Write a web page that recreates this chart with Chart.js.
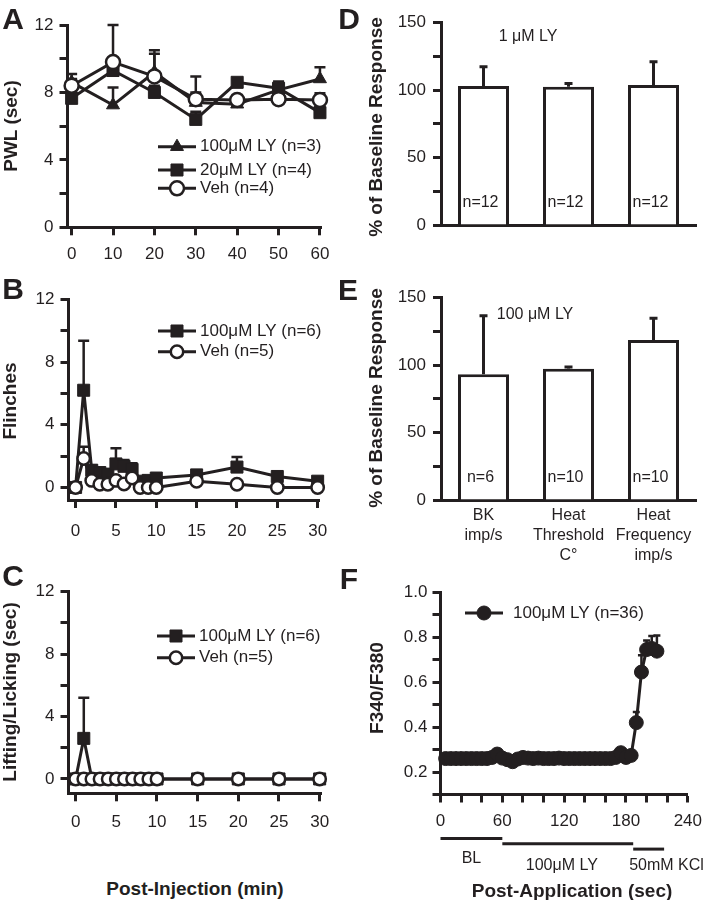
<!DOCTYPE html>
<html>
<head>
<meta charset="utf-8">
<title>LY behaviour and recording panels</title>
<script src="https://cdn.jsdelivr.net/npm/chart.js@4.4.1/dist/chart.umd.min.js"></script>
<style>
  body { margin: 0; background: #fff; }
  #figure { position: relative; width: 711px; height: 900px; overflow: hidden; background: #fff;
            font-family: "Liberation Sans", Arial, Helvetica, sans-serif; color: #231f20; }
  #figure canvas { position: absolute; }
  .txt { position: absolute; white-space: nowrap; line-height: 1; font-weight: bold; transform: translate(-50%, -50%); }
  .panel { font-size: 30px; }
  .axis { font-size: 19px; }
  .vert { transform: translate(-50%, -50%) rotate(-90deg); }
</style>
</head>
<body>
<div id="figure">
  <canvas id="chartA" width="338" height="270" style="left:0px; top:0px;"></canvas>
  <canvas id="chartB" width="340" height="270" style="left:0px; top:270px;"></canvas>
  <canvas id="chartC" width="340" height="300" style="left:0px; top:540px;"></canvas>
  <canvas id="chartD" width="351" height="270" style="left:360px; top:0px;"></canvas>
  <canvas id="chartE" width="351" height="300" style="left:360px; top:270px;"></canvas>
  <canvas id="chartF" width="351" height="330" style="left:360px; top:570px;"></canvas>

  <div class="txt panel" style="left:13px; top:19px;">A</div>
  <div class="txt panel" style="left:13px; top:289px;">B</div>
  <div class="txt panel" style="left:13px; top:576px;">C</div>
  <div class="txt panel" style="left:349px; top:19px;">D</div>
  <div class="txt panel" style="left:348px; top:290px;">E</div>
  <div class="txt panel" style="left:349px; top:579px;">F</div>

  <div class="txt axis vert" style="left:10px; top:126px;">PWL (sec)</div>
  <div class="txt axis vert" style="left:9px; top:401px;">Flinches</div>
  <div class="txt axis vert" style="left:9px; top:692px;">Lifting/Licking (sec)</div>
  <div class="txt axis vert" style="left:375px; top:127px;">% of Baseline Response</div>
  <div class="txt axis vert" style="left:375px; top:398px;">% of Baseline Response</div>
  <div class="txt axis vert" style="left:376px; top:688px;">F340/F380</div>
  <div class="txt axis" style="left:195px; top:888px;">Post-Injection (min)</div>
  <div class="txt axis" style="left:572px; top:890px;">Post-Application (sec)</div>
</div>

<script>
const INK = '#231f20';
const FONT = '"Liberation Sans", Arial, Helvetica, sans-serif';

// Panel A - paw withdrawal latency
const timesA = [0, 10, 20, 30, 40, 50, 60];
const pwlLy100 = [8.6, 7.25, 9.2, 7.4, 7.3, 8.15, 8.8];
const pwlLy100Err = [0.5, 1.05, 1.1, 0.6, 0.2, 0.3, 0.7];
const pwlLy20 = [7.65, 9.3, 8.0, 6.4, 8.6, 8.25, 6.8];
const pwlLy20Err = [0.3, 0.4, 0.4, 0.45, 0.2, 0.4, 0.3];
const pwlVeh = [8.4, 9.8, 8.95, 7.6, 7.55, 7.6, 7.55];
const pwlVehErr = [0.4, 2.2, 1.55, 1.35, 0.3, 0.3, 0.4];
const xLabelsA = [0, 10, 20, 30, 40, 50, 60];

// Panel B - flinches
const timesB = [0, 1, 2, 3, 4, 5, 6, 7, 8, 9, 10, 15, 20, 25, 30];
const flinchLy = [0, 6.2, 1.1, 0.95, 0.85, 1.5, 1.35, 1.15, 0.4, 0.45, 0.6, 0.8, 1.3, 0.7, 0.4];
const flinchLyErr = [0, 3.15, 0.3, 0.3, 0.3, 1.0, 0.4, 0.4, 0.2, 0.2, 0.2, 0.3, 0.65, 0.2, 0.2];
const flinchVeh = [0, 1.85, 0.45, 0.2, 0.2, 0.45, 0.22, 0.6, 0, 0, 0, 0.4, 0.2, 0, 0];
const flinchVehErr = [0, 0.75, 0.2, 0.1, 0.1, 0.2, 0.1, 0.2, 0, 0, 0, 0.2, 0.1, 0, 0];

// Panel C - lifting/licking
const timesC = [0, 1, 2, 3, 4, 5, 6, 7, 8, 9, 10, 15, 20, 25, 30];
const lickLy = [0, 2.6, 0, 0, 0, 0, 0, 0, 0, 0, 0, 0, 0, 0, 0];
const lickLyErr = [0, 2.6, 0, 0, 0, 0, 0, 0, 0, 0, 0, 0, 0, 0, 0];
const lickVeh = [0, 0, 0, 0, 0, 0, 0, 0, 0, 0, 0, 0, 0, 0, 0];
const xLabelsBC = [0, 5, 10, 15, 20, 25, 30];
const yLabelsABC = [0, 4, 8, 12];

// Panels D and E - % of baseline response
const barCats = [['BK', 'imp/s'], ['Heat', 'Threshold', 'C°'], ['Heat', 'Frequency', 'imp/s']];
const ly1Pct = [103, 102.5, 103.8];
const ly1Err = [14.3, 2.5, 17.3];
const ly1N = ['n=12', 'n=12', 'n=12'];
const ly100Pct = [93.2, 97.3, 118.6];
const ly100Err = [43.4, 1.3, 16.1];
const ly100N = ['n=6', 'n=10', 'n=10'];
const yLabelsDE = [0, 50, 100, 150];

// Panel F - calcium ratio
const timesF = [5, 10, 15, 20, 25, 30, 35, 40, 45, 50, 55, 60, 65, 70, 75, 80, 85, 90, 95, 100,
                105, 110, 115, 120, 125, 130, 135, 140, 145, 150, 155, 160, 165, 170, 175, 180, 185,
                190, 195, 200, 205, 210];
const ratioF = [0.26, 0.26, 0.26, 0.26, 0.26, 0.26, 0.26, 0.26, 0.26, 0.265, 0.28, 0.262, 0.255, 0.246,
                0.258, 0.265, 0.262, 0.26, 0.262, 0.26, 0.26, 0.26, 0.262, 0.26, 0.26, 0.26, 0.26, 0.26,
                0.26, 0.26, 0.26, 0.26, 0.26, 0.265, 0.286, 0.265, 0.274, 0.42, 0.645, 0.745, 0.75, 0.738];
const ratioFErr = [0, 0, 0, 0, 0, 0, 0, 0, 0, 0, 0, 0, 0, 0, 0, 0, 0, 0, 0, 0, 0, 0, 0, 0, 0, 0, 0, 0,
                   0, 0, 0, 0, 0, 0, 0, 0, 0, 0.047, 0.075, 0.04, 0.055, 0.07];
const xLabelsF = [0, 60, 120, 180, 240];
const yLabelsF = [0.2, 0.4, 0.6, 0.8, 1.0];
const stageNames = ['BL', '100μM LY', '50mM KCl'];
const stageStart = [0, 60, 187];
const stageEnd = [60, 187, 217];

Chart.defaults.font.family = FONT;
Chart.defaults.color = INK;

function labelOnly(list, digits) {
    return v => list.some(l => Math.abs(l - v) < 1e-6) ? v.toFixed(digits) : '';
}

function points(xs, ys) {
    return xs.map((x, i) => ({ x: x, y: ys[i] }));
}

// Axis with a fixed thickness, so the plot area lands where the figure has it
function makeAxis(o) {
    const ticks = {
        display: o.showLabels !== false,
        autoSkip: false, maxRotation: 0, minRotation: 0,
        maxTicksLimit: 100, includeBounds: false,
        padding: o.pad, color: INK,
        font: { family: FONT, size: o.fontSize || 17, lineHeight: o.lineHeight || 1.2 }
    };
    if (o.step) ticks.stepSize = o.step;
    if (o.callback) ticks.callback = o.callback;
    const axis = {
        type: o.type || 'linear',
        offset: o.offset || false,
        afterFit: scale => {
            if (scale.isHorizontal()) scale.height = o.size;
            else scale.width = o.size;
        },
        border: { display: true, color: INK, width: 3 },
        grid: { drawOnChartArea: false, drawTicks: o.drawTicks !== false, tickLength: 8, tickWidth: 3, tickColor: INK },
        ticks: ticks
    };
    if (o.min !== undefined) axis.min = o.min;
    if (o.max !== undefined) axis.max = o.max;
    return axis;
}

function lineSet(label, xs, ys, errs, style, order) {
    return {
        label: label,
        data: points(xs, ys),
        errors: errs,
        borderColor: INK,
        borderWidth: 3,
        pointStyle: style.shape,
        pointRadius: style.radius,
        pointBackgroundColor: style.fill,
        pointBorderColor: INK,
        pointBorderWidth: style.border,
        tension: 0,
        clip: false,
        order: order
    };
}

const TRIANGLE = { shape: 'triangle', radius: 7.5, fill: INK, border: 1 };
const SQUARE = { shape: 'rect', radius: 8.5, fill: INK, border: 1 };
const OPEN_BIG = { shape: 'circle', radius: 7, fill: '#ffffff', border: 2.5 };
const OPEN = { shape: 'circle', radius: 6.2, fill: '#ffffff', border: 2.5 };
const FILLED = { shape: 'circle', radius: 7, fill: INK, border: 1 };

// Upward-only error bars, read from dataset.errors
const errorBars = {
    id: 'errorBars',
    beforeDatasetsDraw(chart, args, opts) {
        if (!opts.onTop) drawErrors(chart, opts);
    },
    afterDatasetsDraw(chart, args, opts) {
        if (opts.onTop) drawErrors(chart, opts);
    }
};

function drawErrors(chart, opts) {
    const ctx = chart.ctx;
    const yScale = chart.scales.y;
    ctx.save();
    ctx.strokeStyle = INK;
    ctx.lineWidth = opts.width;
    chart.data.datasets.forEach((ds, di) => {
        if (!ds.errors) return;
        chart.getDatasetMeta(di).data.forEach((el, i) => {
            const err = ds.errors[i];
            if (!err) return;
            const raw = ds.data[i];
            const v = typeof raw === 'object' ? raw.y : raw;
            const top = yScale.getPixelForValue(v + err);
            ctx.beginPath();
            ctx.moveTo(el.x, el.y);
            ctx.lineTo(el.x, top);
            ctx.moveTo(el.x - opts.cap, top);
            ctx.lineTo(el.x + opts.cap, top);
            ctx.stroke();
        });
    });
    ctx.restore();
}

function lineLegend(x0, rowYs, gap) {
    return {
        id: 'lineLegend',
        afterDatasetsDraw(chart) {
            const ctx = chart.ctx;
            const area = chart.chartArea;
            chart.data.datasets.forEach((ds, i) => {
                const x = area.left + x0;
                const y = area.top + rowYs[i];
                ctx.save();
                ctx.strokeStyle = INK;
                ctx.lineWidth = 3;
                ctx.beginPath();
                ctx.moveTo(x, y);
                ctx.lineTo(x + 38, y);
                ctx.stroke();
                ctx.fillStyle = ds.pointBackgroundColor;
                ctx.lineWidth = ds.pointBorderWidth;
                Chart.helpers.drawPoint(ctx, {
                    pointStyle: ds.pointStyle, radius: ds.pointRadius,
                    borderWidth: ds.pointBorderWidth, rotation: 0
                }, x + 19, y);
                ctx.fillStyle = INK;
                ctx.font = '17px ' + FONT;
                ctx.textAlign = 'left';
                ctx.textBaseline = 'middle';
                ctx.fillText(ds.label, x + gap, y);
                ctx.restore();
            });
        }
    };
}

function barNotes(title, dx, dy, nLabels) {
    return {
        id: 'barNotes',
        afterDatasetsDraw(chart) {
            const ctx = chart.ctx;
            const area = chart.chartArea;
            const base = chart.scales.y.getPixelForValue(0);
            ctx.save();
            ctx.fillStyle = INK;
            ctx.font = '16px ' + FONT;
            ctx.textAlign = 'center';
            ctx.textBaseline = 'middle';
            ctx.fillText(title, area.left + dx, area.top + dy);
            chart.getDatasetMeta(0).data.forEach((bar, i) => {
                ctx.fillText(nLabels[i], bar.x - 3, base - 22);
            });
            ctx.restore();
        }
    };
}

// Treatment periods drawn under the time axis of panel F
const stageBars = {
    id: 'stageBars',
    afterDraw(chart) {
        const ctx = chart.ctx;
        const xs = chart.scales.x;
        const base = chart.chartArea.bottom;
        ctx.save();
        ctx.strokeStyle = INK;
        ctx.fillStyle = INK;
        ctx.lineWidth = 3;
        ctx.font = '16px ' + FONT;
        ctx.textBaseline = 'middle';
        stageNames.forEach((name, i) => {
            const x1 = xs.getPixelForValue(stageStart[i]);
            const x2 = xs.getPixelForValue(stageEnd[i]);
            const ly = base + 44 + i * 5.3;
            ctx.beginPath();
            ctx.moveTo(x1, ly);
            ctx.lineTo(x2, ly);
            ctx.stroke();
            if (i === 0) {
                ctx.textAlign = 'center';
                ctx.fillText(name, (x1 + x2) / 2, base + 64.5);
            } else if (i === 1) {
                ctx.textAlign = 'center';
                ctx.fillText(name, (x1 + x2) / 2 - 6, base + 71.5);
            } else {
                ctx.textAlign = 'left';
                ctx.fillText(name, x1 - 4, base + 71.5);
            }
        });
        ctx.restore();
    }
};

function baseOptions(pad, errOpts) {
    return {
        responsive: false,
        animation: false,
        devicePixelRatio: 1,
        events: [],
        layout: { padding: pad },
        plugins: {
            legend: { display: false },
            tooltip: { enabled: false },
            errorBars: errOpts
        }
    };
}

// A
const optA = baseOptions({ top: 25, right: 14.7, left: 0, bottom: 0 }, { cap: 5.5, width: 2.5, onTop: false });
optA.scales = {
    x: makeAxis({ min: -1, max: 60.4, step: 10, size: 42.7, pad: 8.5, callback: labelOnly(xLabelsA, 0) }),
    y: makeAxis({ min: 0, max: 12, step: 2, size: 67.5, pad: 6, callback: labelOnly(yLabelsABC, 0) })
};
new Chart(document.getElementById('chartA'), {
    type: 'line',
    data: {
        datasets: [
            lineSet('100μM LY (n=3)', timesA, pwlLy100, pwlLy100Err, TRIANGLE, 2),
            lineSet('20μM LY (n=4)', timesA, pwlLy20, pwlLy20Err, SQUARE, 1),
            lineSet('Veh (n=4)', timesA, pwlVeh, pwlVehErr, OPEN_BIG, 0)
        ]
    },
    options: optA,
    plugins: [errorBars, lineLegend(90.5, [121.7, 145, 163.3], 42)]
});

// B
const optB = baseOptions({ top: 29.3, right: 16.7, left: 0, bottom: 0 }, { cap: 5.5, width: 2.5, onTop: false });
optB.scales = {
    x: makeAxis({ min: -0.88, max: 30.2, step: 5, size: 40, pad: 12.8, callback: labelOnly(xLabelsBC, 0) }),
    y: makeAxis({ min: -0.8, max: 12, step: 2, size: 68.5, pad: 6, callback: labelOnly(yLabelsABC, 0) })
};
new Chart(document.getElementById('chartB'), {
    type: 'line',
    data: {
        datasets: [
            lineSet('100μM LY (n=6)', timesB, flinchLy, flinchLyErr, SQUARE, 1),
            lineSet('Veh (n=5)', timesB, flinchVeh, flinchVehErr, OPEN, 0)
        ]
    },
    options: optB,
    plugins: [errorBars, lineLegend(89.5, [31.7, 52.4], 42)]
});

// C
const optC = baseOptions({ top: 51.7, right: 16.7, left: 0, bottom: 0 }, { cap: 5.5, width: 2.5, onTop: false });
optC.scales = {
    x: makeAxis({ min: -0.88, max: 30.2, step: 5, size: 46.7, pad: 10.8, callback: labelOnly(xLabelsBC, 0) }),
    y: makeAxis({ min: -0.92, max: 12, step: 2, size: 68.5, pad: 6, callback: labelOnly(yLabelsABC, 0) })
};
new Chart(document.getElementById('chartC'), {
    type: 'line',
    data: {
        datasets: [
            lineSet('100μM LY (n=6)', timesC, lickLy, lickLyErr, SQUARE, 1),
            lineSet('Veh (n=5)', timesC, lickVeh, null, OPEN, 0)
        ]
    },
    options: optC,
    plugins: [errorBars, lineLegend(88.5, [44.3, 66], 42)]
});

// D and E
function barChart(id, values, errs, nLabels, title, titleDx, titleDy, pad, xSize, showCats) {
    const opt = baseOptions(pad, { cap: 4, width: 3, onTop: true });
    opt.scales = {
        x: makeAxis({ type: 'category', offset: true, size: xSize, pad: 6, drawTicks: false,
                      showLabels: showCats, fontSize: 16, lineHeight: 1.25 }),
        y: makeAxis({ min: 0, max: 150, step: 25, size: 81, pad: 7, callback: labelOnly(yLabelsDE, 0) })
    };
    return new Chart(document.getElementById(id), {
        type: 'bar',
        data: {
            labels: barCats,
            datasets: [{
                data: values,
                errors: errs,
                backgroundColor: '#ffffff',
                borderColor: INK,
                borderWidth: 3,
                borderSkipped: 'bottom',
                barPercentage: 0.6,
                categoryPercentage: 1.0
            }]
        },
        options: opt,
        plugins: [errorBars, barNotes(title, titleDx, titleDy, nLabels)]
    });
}
barChart('chartD', ly1Pct, ly1Err, ly1N, '1 μM LY', 87, 14, { top: 22.7, right: 15, left: 0, bottom: 0 }, 45, false);
barChart('chartE', ly100Pct, ly100Err, ly100N, '100 μM LY', 94, 17.3, { top: 27.7, right: 15, left: 0, bottom: 0 }, 70, true);

// F
const optF = baseOptions({ top: 22.3, right: 16, left: 0, bottom: 0 }, { cap: 3.5, width: 2.5, onTop: false });
optF.scales = {
    x: makeAxis({ min: 0, max: 240, step: 20, size: 105.5, pad: 9, callback: labelOnly(xLabelsF, 0) }),
    y: makeAxis({ min: 0.1, max: 1.0, step: 0.1, size: 80.5, pad: 5, callback: labelOnly(yLabelsF, 1) })
};
new Chart(document.getElementById('chartF'), {
    type: 'line',
    data: {
        datasets: [
            lineSet('100μM LY (n=36)', timesF, ratioF, ratioFErr, FILLED, 0)
        ]
    },
    options: optF,
    plugins: [errorBars, lineLegend(24.5, [20.7], 48), stageBars]
});
</script>
</body>
</html>
